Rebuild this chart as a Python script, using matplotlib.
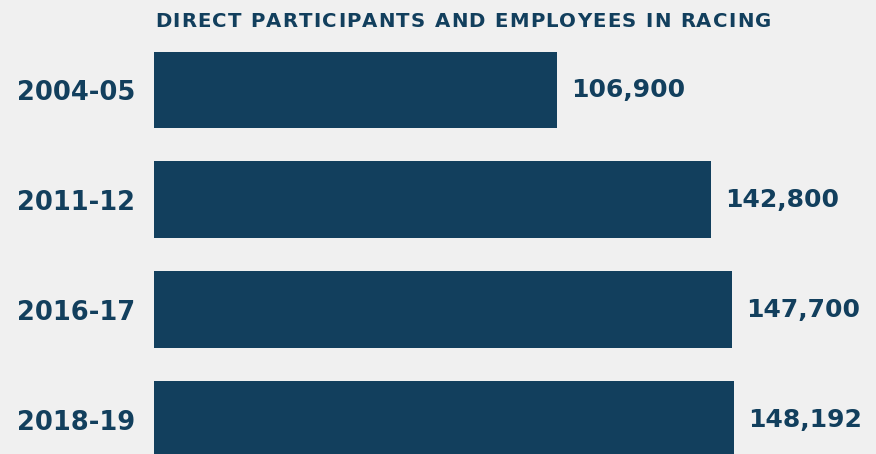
import matplotlib.pyplot as plt
from matplotlib.font_manager import FontProperties

periods = ["2004-05", "2011-12", "2016-17", "2018-19"]
participants = [106900, 142800, 147700, 148192]
title = "DIRECT PARTICIPANTS AND EMPLOYEES IN RACING"

navy = "#123f5d"
bg = "#f0f0f0"

plt.rcParams["font.family"] = ["DejaVu Sans"]
plt.rcParams["font.weight"] = "bold"

fig = plt.figure(figsize=(8.76, 4.54), dpi=100, facecolor=bg)
# axes covers full height; x starts at the bar base
ax = fig.add_axes([154 / 876, 0, 722 / 876, 1])
ax.set_facecolor(bg)

ypos = list(range(len(periods)))
bars = ax.barh(ypos, participants, height=0.7, color=navy)

# axis does not start at zero in the source graphic
x0 = 12960
ax.set_xlim(x0, x0 + 722 / 0.00429)
ax.set_ylim(3.314, -0.8195)

ax.set_yticks(ypos, periods, fontsize=18.5, color=navy, fontweight="bold")
ax.tick_params(axis="y", length=0, pad=13.5)
for lbl in ax.get_yticklabels():
    lbl.set_va("center_baseline")
ax.set_xticks([])
for s in ax.spines.values():
    s.set_visible(False)

ax.bar_label(bars, labels=[f"{v:,}" for v in participants], padding=10,
             fontsize=18, color=navy, fontweight="bold")

# title with letter spacing, drawn one character at a time
renderer = fig.canvas.get_renderer()
fp = FontProperties(family="DejaVu Sans", weight="bold", size=14.2)


def text_w(s):
    return renderer.get_text_width_height_descent(s, fp, ismath=False)[0]


base_w = text_w("HH")
tracking = 1.2  # px between letters
x = 155
for ch in title:
    fig.text(x / 876, 1 - 27 / 454, ch, fontproperties=fp, color=navy,
             va="baseline", ha="left")
    x += text_w("H" + ch + "H") - base_w + tracking

fig.savefig("out.png", dpi=100, facecolor=bg)
